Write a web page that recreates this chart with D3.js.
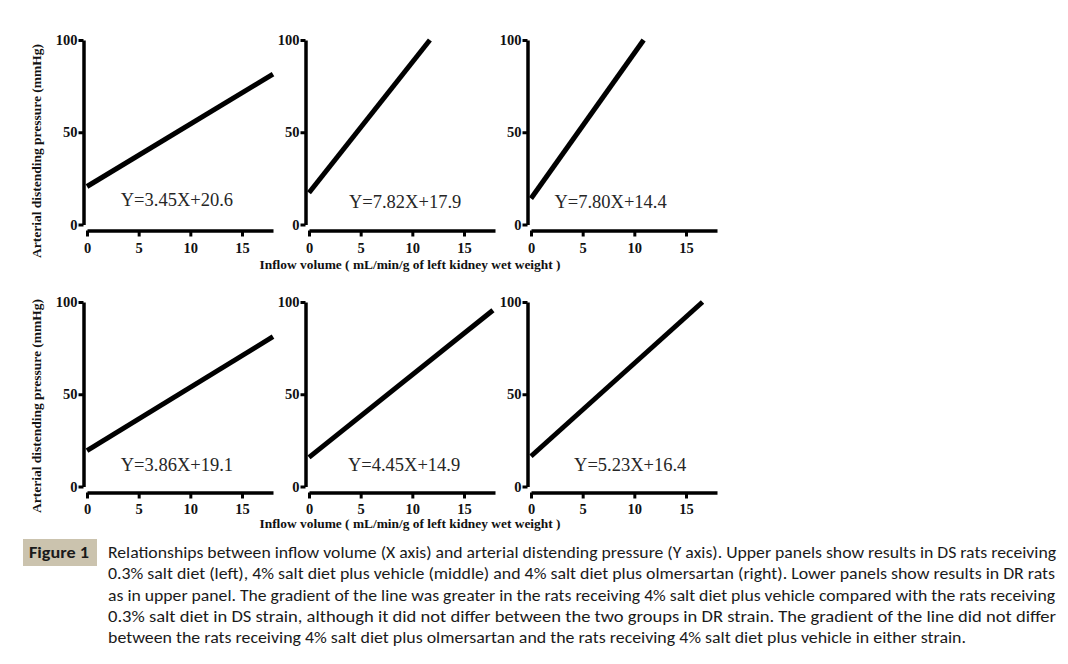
<!DOCTYPE html>
<html>
<head>
<meta charset="utf-8">
<script src="https://cdn.jsdelivr.net/npm/d3@7"></script>
<style>
  body { margin: 0; background: #fff; }
  svg { display: block; }
</style>
</head>
<body>
<svg id="fig" width="1068" height="664"></svg>
<script>
// values
const equations = ["Y=3.45X+20.6", "Y=7.82X+17.9", "Y=7.80X+14.4",
                   "Y=3.86X+19.1", "Y=4.45X+14.9", "Y=5.23X+16.4"];
const lineStartX = [0, 0, 0, 0, 0, 0];
const lineStartY = [20.6, 17.2, 14.1, 19.5, 15.8, 16.4];
const lineEndX = [18, 11.7, 10.9, 18, 17.8, 16.6];
const lineEndY = [81.5, 100, 100, 81.2, 95.5, 100];
const xTicks = [0, 5, 10, 15];
const yTicks = [0, 50, 100];
const xDomain = [0, 18];
const yDomain = [0, 100];

const yLabel = "Arterial distending pressure (mmHg)";
const xLabel = "Inflow volume ( mL/min/g of left kidney wet weight )";
const figLabel = "Figure 1";
const captionLines = [
  "Relationships between inflow volume (X axis) and arterial distending pressure (Y axis). Upper panels show results in DS rats receiving",
  "0.3% salt diet (left), 4% salt diet plus vehicle (middle) and 4% salt diet plus olmersartan (right). Lower panels show results in DR rats",
  "as in upper panel. The gradient of the line was greater in the rats receiving 4% salt diet plus vehicle compared with the rats receiving",
  "0.3% salt diet in DS strain, although it did not differ between the two groups in DR strain. The gradient of the line did not differ",
  "between the rats receiving 4% salt diet plus olmersartan and the rats receiving 4% salt diet plus vehicle in either strain."
];

// layout
const colLeft = [87, 309, 531];
const rowTop = [40, 302];
const plotW = 186, plotH = 184.5;
const eqPos = [[8.7, 10], [9.3, 9.2], [7.7, 9.2], [8.7, 8.6], [9.2, 8.6], [9.6, 8.6]];

const svg = d3.select("#fig");
const serif = "'Liberation Serif', 'Times New Roman', serif";

equations.forEach((eq, i) => {
  const row = Math.floor(i / 3), col = i % 3;
  const x = d3.scaleLinear().domain(xDomain).range([colLeft[col], colLeft[col] + plotW]);
  const y = d3.scaleLinear().domain(yDomain).range([rowTop[row] + plotH, rowTop[row]]);

  const yAxis = svg.append("g")
    .attr("transform", `translate(${x(0) - 3.5},0)`)
    .call(d3.axisLeft(y).tickValues(yTicks).tickSize(5).tickSizeOuter(0).tickPadding(1));

  const xAxis = svg.append("g")
    .attr("transform", `translate(0,${y(0) + 6})`)
    .call(d3.axisBottom(x).tickValues(xTicks).tickSize(6).tickSizeOuter(0).tickPadding(row ? 5 : 6));

  [yAxis, xAxis].forEach(a => {
    a.select(".domain").attr("stroke", "#000").attr("stroke-width", 3.5);
    a.selectAll(".tick line").attr("stroke", "#000").attr("stroke-width", 3);
    a.selectAll(".tick text")
      .attr("fill", "#111")
      .style("font-family", serif)
      .style("font-weight", "bold")
      .style("font-size", "14.5px");
  });

  const pts = [[lineStartX[i], lineStartY[i]], [lineEndX[i], lineEndY[i]]];
  svg.append("path")
    .datum(pts)
    .attr("fill", "none")
    .attr("stroke", "#000")
    .attr("stroke-width", 5)
    .attr("d", d3.line().x(d => x(d[0])).y(d => y(d[1])));

  svg.append("text")
    .attr("x", x(eqPos[i][0]))
    .attr("y", y(eqPos[i][1]))
    .attr("text-anchor", "middle")
    .attr("fill", "#262626")
    .style("font-family", serif)
    .style("font-size", "18.5px")
    .text(eq);
});

// y labels
[151, 406].forEach(cy => {
  svg.append("text")
    .attr("transform", `translate(41,${cy}) rotate(-90)`)
    .attr("text-anchor", "middle")
    .attr("textLength", 214)
    .attr("lengthAdjust", "spacingAndGlyphs")
    .attr("fill", "#111")
    .style("font-family", serif)
    .style("font-weight", "bold")
    .style("font-size", "12.5px")
    .text(yLabel);
});

// x labels
[269, 528].forEach(by => {
  svg.append("text")
    .attr("x", 410)
    .attr("y", by)
    .attr("text-anchor", "middle")
    .attr("textLength", 301)
    .attr("lengthAdjust", "spacingAndGlyphs")
    .attr("fill", "#111")
    .style("font-family", serif)
    .style("font-weight", "bold")
    .style("font-size", "12px")
    .text(xLabel);
});

// caption
const sans = "Carlito, Calibri, Lato, 'Open Sans', sans-serif";
svg.append("rect")
  .attr("x", 23).attr("y", 539).attr("width", 74).attr("height", 27)
  .attr("fill", "#cbc3ae");
svg.append("text")
  .attr("x", 29).attr("y", 558)
  .attr("textLength", 60)
  .attr("lengthAdjust", "spacingAndGlyphs")
  .attr("fill", "#1a1a1a")
  .style("font-family", sans)
  .style("font-weight", "bold")
  .style("font-size", "16px")
  .text(figLabel);

const captionWidths = [948, 947, 947, 948, 858];
captionLines.forEach((t, i) => {
  svg.append("text")
    .attr("x", 108)
    .attr("y", 558 + i * 21.3)
    .attr("textLength", captionWidths[i])
    .attr("lengthAdjust", "spacingAndGlyphs")
    .attr("fill", "#1a1a1a")
    .style("font-family", sans)
    .style("font-size", "16px")
    .text(t);
});
</script>
</body>
</html>
